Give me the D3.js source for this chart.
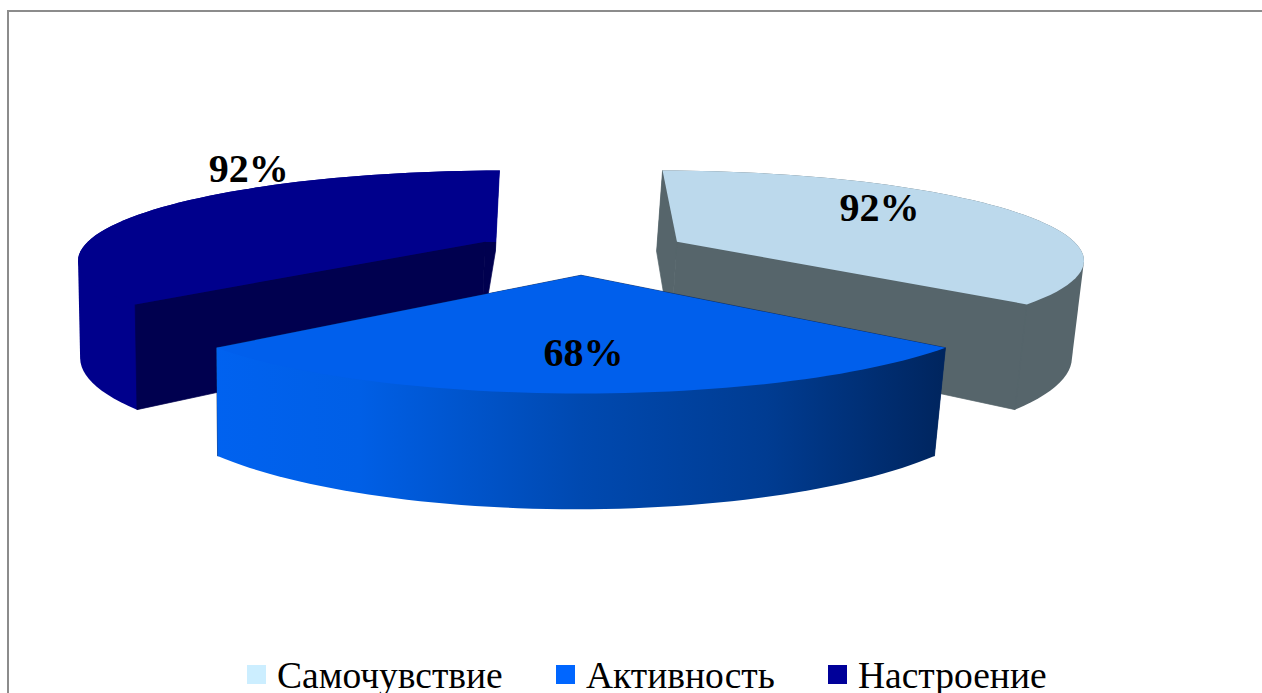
<!DOCTYPE html>
<html lang="ru">
<head>
<meta charset="utf-8">
<script src="https://d3js.org/d3.v7.min.js"></script>
<style>
html,body{margin:0;padding:0;background:#fff;overflow:hidden}
svg{display:block}
</style>
</head>
<body>
<svg id="chart" width="1262" height="693"></svg>
<script>
// ---- data ----
const categories = ["Самочувствие", "Активность", "Настроение"];
const values = [92, 68, 92];
const valueLabels = ["92%", "68%", "92%"];

// ---- styles ----
const legendColors = ["#cceeff", "#0066ff", "#000099"];
const topColors = ["#bcd9ec", "#005fec", "#00008c"];
const outerWallColors = ["#56656b", "url(#blueWall)", "#00008c"];
const startWallColors = ["#56656b", "#002560", "#00004f"];
const endWallColors = ["#56656b", "#002560", "url(#navyEnd)"];

// ---- layout: perspective of the pie ----
const W = 1262, H = 693;
const cam = {cx: 581, cy: 251, rx: 405, ry: 87, k: 0.18, deepen: 0.014, bottomShift: -5};
const sliceDepth = [97, 93, 97];
const explode = 0.265;
const drawOrder = [0, 2, 1];
const wallsInFront = [true, false, true];
const labelPos = [[0.811, -0.56], [0.005, 0.96], [-0.992, -1.16]]; // disc coordinates
const legendY = {swatchTop: 665, swatchSize: 19, baseline: 688};
const legendX = d3.scaleOrdinal().domain(categories).range([247, 556, 828]);
const legendGap = 30;

const svg = d3.select("#chart");

function project(u, v, depth) {
  const deep = depth > 0;
  const w = 1 - cam.k * v + (deep ? cam.deepen : 0);
  return [cam.cx + cam.rx * u / w + (deep ? cam.bottomShift : 0),
          cam.cy + (cam.ry * v + depth) / w];
}

const arcs = d3.pie().sort(null).value(d => d)(values);
const line = d3.line();

const defs = svg.append("defs");
const blueGrad = defs.append("linearGradient")
  .attr("id", "blueWall").attr("gradientUnits", "userSpaceOnUse")
  .attr("x1", project(-0.75, 1, 0)[0]).attr("x2", project(0.75, 1, 0)[0])
  .attr("y1", 0).attr("y2", 0);
[[0, "#0062f0"], [0.2, "#005fe6"], [0.5, "#0049b0"], [0.75, "#003c92"], [1, "#00245c"]]
  .forEach(([o, c]) => blueGrad.append("stop").attr("offset", o).attr("stop-color", c));

// frame of the chart area, running off the right and bottom of the picture
svg.append("path")
  .attr("d", line([[8, H + 5], [8, 11], [W + 5, 11]]))
  .attr("fill", "none").attr("stroke", "#8c8c8c").attr("stroke-width", 2);

const gPie = svg.append("g");

drawOrder.forEach(i => {
  const a = arcs[i];
  const mid = (a.startAngle + a.endAngle) / 2;
  const eu = explode * Math.sin(mid), ev = -explode * Math.cos(mid);
  const D = sliceDepth[i];
  const pt = (ang, depth) => project(eu + Math.sin(ang), ev - Math.cos(ang), depth);
  const apex = depth => project(eu, ev, depth);
  const angles = d3.range(0, 61).map(t => a.startAngle + (a.endAngle - a.startAngle) * t / 60);
  const g = gPie.append("g").attr("class", "slice");

  if (i === 2) {
    const gr = defs.append("linearGradient").attr("id", "navyEnd")
      .attr("gradientUnits", "userSpaceOnUse")
      .attr("x1", 0).attr("x2", 0).attr("y1", 0).attr("y2", H);
    const o = apex(0)[1] / H;
    [[o, topColors[2]], [o, startWallColors[2]]]
      .forEach(([p, c]) => gr.append("stop").attr("offset", p).attr("stop-color", c));
  }

  const drawInner = () => {
    g.append("path")
      .attr("d", line([apex(0), pt(a.endAngle, 0), pt(a.endAngle, D), apex(D)]) + "Z")
      .attr("fill", endWallColors[i]).attr("stroke", endWallColors[i]).attr("stroke-width", 0.7);
    g.append("path")
      .attr("d", line([apex(0), pt(a.startAngle, 0), pt(a.startAngle, D), apex(D)]) + "Z")
      .attr("fill", startWallColors[i]).attr("stroke", startWallColors[i]).attr("stroke-width", 0.7);
  };
  const drawOuter = () => {
    const hull = d3.polygonHull(angles.map(t => pt(t, 0)).concat(angles.map(t => pt(t, D))));
    g.append("path").attr("d", line(hull) + "Z").attr("fill", outerWallColors[i]);
  };

  if (wallsInFront[i]) { drawOuter(); drawInner(); }
  else { drawInner(); drawOuter(); }

  // top face
  g.append("path")
    .attr("d", line([apex(0)].concat(angles.map(t => pt(t, 0)))) + "Z")
    .attr("fill", topColors[i]);
});

// value labels
svg.append("g").selectAll("text").data(valueLabels).join("text")
  .attr("x", (d, i) => project(labelPos[i][0], labelPos[i][1], 0)[0])
  .attr("y", (d, i) => project(labelPos[i][0], labelPos[i][1], 0)[1])
  .attr("dy", "0.35em")
  .attr("text-anchor", "middle")
  .attr("font-family", "'Liberation Serif', serif")
  .attr("font-weight", "bold")
  .attr("font-size", 40)
  .attr("fill", "#000")
  .text(d => d);

// legend
const lg = svg.append("g").selectAll("g").data(categories).join("g");
lg.append("rect")
  .attr("x", d => legendX(d)).attr("y", legendY.swatchTop)
  .attr("width", legendY.swatchSize).attr("height", legendY.swatchSize)
  .attr("fill", (d, i) => legendColors[i]);
lg.append("text")
  .attr("x", d => legendX(d) + legendGap).attr("y", legendY.baseline)
  .attr("font-family", "'Liberation Serif', serif")
  .attr("font-size", 37.5)
  .attr("fill", "#000")
  .text(d => d);
</script>
</body>
</html>
